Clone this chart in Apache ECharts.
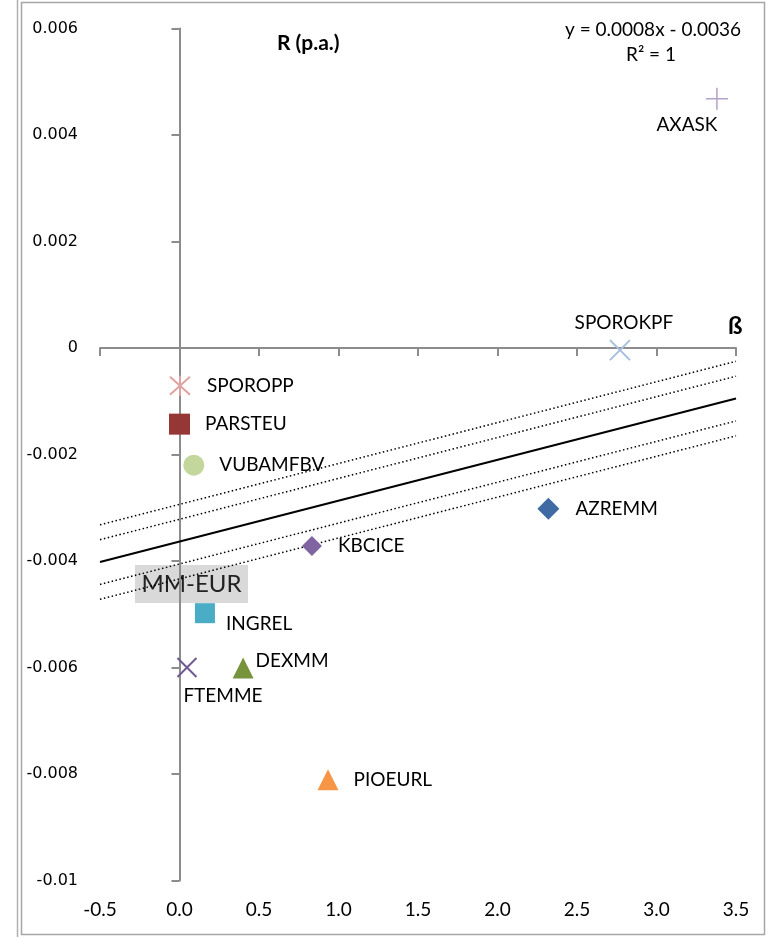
<!DOCTYPE html>
<html><head><meta charset="utf-8">
<script src="https://cdn.jsdelivr.net/npm/echarts@6/dist/echarts.min.js"></script>
<style>html,body{margin:0;padding:0;background:#fff}#c{width:773px;height:937px}</style>
</head><body><div id="c"></div>
<script>
// ---- data ----
const fundNames   = ['AXASK','SPOROKPF','SPOROPP','PARSTEU','VUBAMFBV','AZREMM','KBCICE','INGREL','DEXMM','FTEMME','PIOEURL'];
const betaValues  = [3.38, 2.77, 0.003, 0.0, 0.09, 2.32, 0.833, 0.16, 0.40, 0.047, 0.934];
const returnValues= [0.00468, -0.00004, -0.00071, -0.00143, -0.0022, -0.00302, -0.00372, -0.00498, -0.00601, -0.006, -0.00811];
const lineBeta    = [-0.5, 3.5];
const fitLine     = [-0.00402, -0.00095];
const upperOuter  = [-0.00332, -0.00025];
const upperInner  = [-0.0036, -0.00053];
const lowerInner  = [-0.00444, -0.00137];
const lowerOuter  = [-0.00472, -0.00165];
const xTickLabels = ['-0.5','0.0','0.5','1.0','1.5','2.0','2.5','3.0','3.5'];
const yTickLabels = ['-0.01','-0.008','-0.006','-0.004','-0.002','0','0.002','0.004','0.006'];
const equationText = ['y = 0.0008x - 0.0036', 'R² = 1'];
const boxLabel = 'MM-EUR';

// ---- styles ----
const FONT = 'Lato, "Liberation Sans", sans-serif';
const PLUS = 'path://M10,0 L10,20 M0,10 L20,10';
const CROSS = 'path://M0,0 L20,20 M20,0 L0,20';
const STAR = 'path://M1,1 L19,19 M19,1 L1,19 M10,0 L10,20';
const markerStyle = {
  AXASK:   {symbol: PLUS, color: '#b3a2c7', size: 22, line: 1.5, label: {position: 'bottom', distance: 5, offset: [-30, 0]}},
  SPOROKPF:{symbol: CROSS, color: '#a7bfdd', size: 20, line: 2, label: {position: 'top', distance: 7, offset: [4, 0]}},
  SPOROPP: {symbol: STAR, color: '#dfa3a1', size: 20, line: 2, label: {position: 'right', distance: 16}},
  PARSTEU: {symbol: 'rect', color: '#953735', size: 21, label: {position: 'right', distance: 15}},
  VUBAMFBV:{symbol: 'circle', color: '#c3d69b', size: 21, label: {position: 'right', distance: 15}},
  AZREMM:  {symbol: 'diamond', color: '#3f6aa3', size: 22, label: {position: 'right', distance: 16}},
  KBCICE:  {symbol: 'diamond', color: '#8064a2', size: 20, label: {position: 'right', distance: 16}},
  INGREL:  {symbol: 'rect', color: '#4bacc6', size: 20, label: {position: 'right', distance: 11, offset: [0, 11]}},
  DEXMM:   {symbol: 'triangle', color: '#77933c', size: 21, label: {position: 'right', distance: 2, offset: [0, -7]}},
  FTEMME:  {symbol: CROSS, color: '#6f5a92', size: 19, line: 2, label: {position: 'bottom', distance: 8, offset: [36, 0]}},
  PIOEURL: {symbol: 'triangle', color: '#f79646', size: 21, label: {position: 'right', distance: 15}}
};

const scatterData = fundNames.map((n, i) => {
  const s = markerStyle[n];
  const stroke = !!s.line;
  return {
    name: n,
    value: [betaValues[i], returnValues[i]],
    symbol: s.symbol,
    symbolSize: s.size,
    itemStyle: stroke ? {color: 'rgba(0,0,0,0)', borderColor: s.color, borderWidth: s.line, opacity: 1}
                      : {color: s.color, borderWidth: 0, opacity: 1},
    label: Object.assign({show: true, formatter: '{b}', color: '#000', fontSize: 19, fontFamily: FONT}, s.label)
  };
});

function lineSeries(vals, dotted) {
  return {
    type: 'line', xAxisIndex: 0, yAxisIndex: 0, silent: true, symbol: 'none', z: 1,
    data: lineBeta.map((b, i) => [b, vals[i]]),
    lineStyle: dotted ? {color: '#000', width: 1.5, type: [1.5, 2.5]} : {color: '#000', width: 2, type: 'solid'}
  };
}

const AX = '#8c8c8c';
const chart = echarts.init(document.getElementById('c'), null, {renderer: 'canvas'});
chart.setOption({
  animation: false,
  backgroundColor: '#fff',
  grid: {left: 100, right: 37, top: 28.5, bottom: 56.5, containLabel: false},
  xAxis: [
    {type: 'value', min: -0.5, max: 3.5, interval: 0.5, position: 'bottom',
     axisLine: {show: true, onZero: true, lineStyle: {color: AX, width: 2}},
     axisTick: {show: true, length: 8, lineStyle: {color: AX, width: 2}},
     axisLabel: {show: false}, splitLine: {show: false}},
    {type: 'value', min: -0.5, max: 3.5, interval: 0.5, position: 'bottom',
     axisLine: {show: false, onZero: false}, axisTick: {show: false}, splitLine: {show: false},
     axisLabel: {show: true, margin: 20, color: '#000', fontSize: 19, fontFamily: FONT,
       formatter: (v) => xTickLabels[Math.round((v + 0.5) / 0.5)]}}
  ],
  yAxis: [
    {type: 'value', min: -0.01, max: 0.006, interval: 0.002, position: 'left',
     axisLine: {show: true, onZero: true, lineStyle: {color: AX, width: 2}},
     axisTick: {show: true, length: 8, lineStyle: {color: AX, width: 2}},
     axisLabel: {show: false}, splitLine: {show: false}},
    {type: 'value', min: -0.01, max: 0.006, interval: 0.002, position: 'left',
     axisLine: {show: false, onZero: false}, axisTick: {show: false}, splitLine: {show: false},
     axisLabel: {show: true, margin: 22, color: '#000', fontSize: 16, fontFamily: '"DejaVu Sans", sans-serif',
       formatter: (v) => yTickLabels[Math.round((v + 0.01) / 0.002)]}}
  ],
  series: [
    lineSeries(upperOuter, true),
    lineSeries(upperInner, true),
    lineSeries(fitLine, false),
    lineSeries(lowerInner, true),
    lineSeries(lowerOuter, true),
    {type: 'scatter', xAxisIndex: 0, yAxisIndex: 0, z: 3, data: scatterData}
  ],
  graphic: [
    {type: 'line', shape: {x1: 17.5, y1: 0, x2: 17.5, y2: 937}, style: {stroke: '#b0b0b0', lineWidth: 1.5}, silent: true},
    {type: 'rect', shape: {x: 21.5, y: 2.5, width: 743, height: 932}, style: {fill: 'none', stroke: '#a6a6a6', lineWidth: 1.5}, silent: true},
    {type: 'text', left: 565, top: 20, style: {text: equationText[0], font: '19px ' + FONT, fill: '#000'}},
    {type: 'text', left: 626, top: 45, style: {text: equationText[1], font: '19px ' + FONT, fill: '#000'}},
    {type: 'text', left: 277, top: 33, style: {text: 'R (p.a.)', font: 'bold 21px ' + FONT, fill: '#000'}},
    {type: 'text', left: 728, top: 314, style: {text: 'ß', font: 'bold 24px ' + FONT, fill: '#000'}},
    {type: 'group', left: 135, top: 565, z: 10, children: [
      {type: 'rect', shape: {x: 0, y: 0, width: 113, height: 38}, style: {fill: '#d9d9d9'}},
      {type: 'text', x: 56.5, y: 19, style: {text: boxLabel, font: '24px ' + FONT, fill: '#222', textAlign: 'center', textVerticalAlign: 'middle'}}
    ]}
  ]
});
</script></body></html>
